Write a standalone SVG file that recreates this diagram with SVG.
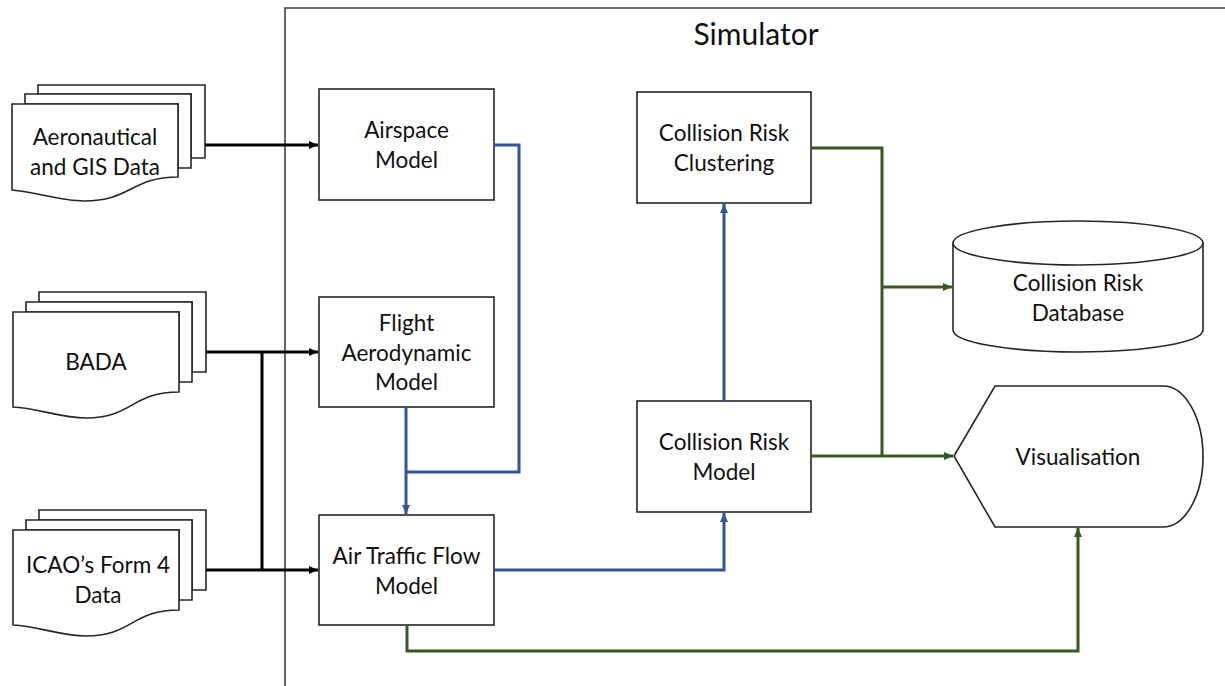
<svg xmlns="http://www.w3.org/2000/svg" width="1225" height="686" viewBox="0 0 1225 686">
  <style>
    .txt { font-family: Lato, "Open Sans", "Liberation Sans", sans-serif; font-size: 22.5px; fill: #111111; text-anchor: middle; }
    .title { font-size: 30px; }
    .shape { fill: #ffffff; stroke: #262626; stroke-width: 1.6; }
    .frame { fill: none; stroke: #404040; stroke-width: 1.6; }
    .k { fill: none; stroke: #000000; stroke-width: 3; }
    .b { fill: none; stroke: #2f5597; stroke-width: 3; }
    .g { fill: none; stroke: #385723; stroke-width: 3; }
  </style>
  <defs>
    <marker id="ak" markerWidth="10" markerHeight="10" refX="9" refY="5" orient="auto" markerUnits="userSpaceOnUse">
      <path d="M0,1 L9,5 L0,9 Z" fill="#000000"/>
    </marker>
    <marker id="ab" markerWidth="10" markerHeight="10" refX="9" refY="5" orient="auto" markerUnits="userSpaceOnUse">
      <path d="M0,1 L9,5 L0,9 Z" fill="#2f5597"/>
    </marker>
    <marker id="ag" markerWidth="10" markerHeight="10" refX="9" refY="5" orient="auto" markerUnits="userSpaceOnUse">
      <path d="M0,1 L9,5 L0,9 Z" fill="#385723"/>
    </marker>
  </defs>
  <rect width="1225" height="686" fill="#ffffff"/>

  <!-- Simulator boundary -->
  <g id="simulator">
    <path class="frame" d="M285,686 L285,8 L1225,8"/>
    <text class="txt title" x="756" y="45">Simulator</text>
  </g>

  <!-- input document stacks -->
  <g id="doc-aero">
    <path class="shape" d="M38,85 L205,85 L205,158 L191,158 L191,94 L38,94 Z"/>
    <path class="shape" d="M25,94 L191,94 L191,168 L178,168 L178,104 L25,104 Z"/>
    <path class="shape" d="M12,104 L178,104 L178,177 C131,177 131,201 84,201 C60,201 36,192 12,190 Z"/>
    <text class="txt" x="95" y="145">Aeronautical</text>
    <text class="txt" x="95" y="175">and GIS Data</text>
  </g>
  <g id="doc-bada">
    <path class="shape" d="M39,292 L206,292 L206,372 L192,372 L192,302 L39,302 Z"/>
    <path class="shape" d="M26,302 L192,302 L192,382 L179,382 L179,312 L26,312 Z"/>
    <path class="shape" d="M13,312 L179,312 L179,392 C132,392 132,418 86,418 C61,418 37,408 13,407 Z"/>
    <text class="txt" x="96" y="370">BADA</text>
  </g>
  <g id="doc-icao">
    <path class="shape" d="M39,510 L206,510 L206,590 L192,590 L192,520 L39,520 Z"/>
    <path class="shape" d="M26,520 L192,520 L192,600 L179,600 L179,530 L26,530 Z"/>
    <path class="shape" d="M13,530 L179,530 L179,610 C132,610 132,636 86,636 C61,636 37,626 13,625 Z"/>
    <text class="txt" x="98" y="573">ICAO’s Form 4</text>
    <text class="txt" x="98" y="603">Data</text>
  </g>

  <!-- simulator processes -->
  <g id="airspace-model">
    <rect class="shape" x="319" y="89" width="175" height="111"/>
    <text class="txt" x="406.5" y="138">Airspace</text>
    <text class="txt" x="406.5" y="168">Model</text>
  </g>
  <g id="flight-aerodynamic-model">
    <rect class="shape" x="319" y="297" width="175" height="110"/>
    <text class="txt" x="406.5" y="331">Flight</text>
    <text class="txt" x="406.5" y="361">Aerodynamic</text>
    <text class="txt" x="406.5" y="390">Model</text>
  </g>
  <g id="air-traffic-flow-model">
    <rect class="shape" x="319" y="515" width="175" height="110"/>
    <text class="txt" x="406.5" y="564">Air Traffic Flow</text>
    <text class="txt" x="406.5" y="594">Model</text>
  </g>
  <g id="collision-risk-clustering">
    <rect class="shape" x="637" y="92" width="174" height="111"/>
    <text class="txt" x="724" y="141">Collision Risk</text>
    <text class="txt" x="724" y="171">Clustering</text>
  </g>
  <g id="collision-risk-model">
    <rect class="shape" x="637" y="401" width="174" height="111"/>
    <text class="txt" x="724" y="450">Collision Risk</text>
    <text class="txt" x="724" y="480">Model</text>
  </g>

  <!-- outputs -->
  <g id="collision-risk-database">
    <path class="shape" d="M953,243 A125,22 0 0 1 1203,243 L1203,330 A125,22 0 0 1 953,330 Z"/>
    <path class="shape" fill="none" d="M953,243 A125,22 0 0 0 1203,243"/>
    <text class="txt" x="1078" y="291">Collision Risk</text>
    <text class="txt" x="1078" y="321">Database</text>
  </g>
  <g id="visualisation">
    <path class="shape" d="M954,456 L995,386 L1163,386 A40,70.5 0 0 1 1163,527 L995,527 Z"/>
    <text class="txt" x="1078" y="465">Visualisation</text>
  </g>

  <!-- connectors -->
  <g id="connectors">
    <path class="k" d="M205,145 L318,145" marker-end="url(#ak)"/>
    <path class="k" d="M206,352 L318,352" marker-end="url(#ak)"/>
    <path class="k" d="M206,570 L318,570" marker-end="url(#ak)"/>
    <path class="k" d="M262,352 L262,570"/>

    <path class="b" d="M494,145 L519,145 L519,472 L406,472"/>
    <path class="b" d="M406,407 L406,514" marker-end="url(#ab)"/>
    <path class="b" d="M494,570 L724,570 L724,513" marker-end="url(#ab)"/>
    <path class="b" d="M724,401 L724,204" marker-end="url(#ab)"/>

    <path class="g" d="M811,148 L882,148 L882,456"/>
    <path class="g" d="M882,287 L952,287" marker-end="url(#ag)"/>
    <path class="g" d="M811,456 L953,456" marker-end="url(#ag)"/>
    <path class="g" d="M407,625 L407,651 L1078,651 L1078,528" marker-end="url(#ag)"/>
  </g>
</svg>
